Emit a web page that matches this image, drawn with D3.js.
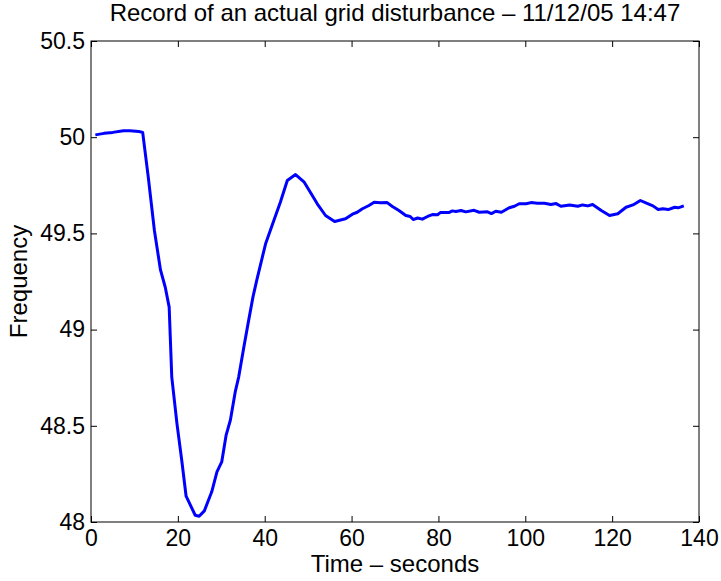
<!DOCTYPE html>
<html>
<head>
<meta charset="utf-8">
<script src="https://cdn.jsdelivr.net/npm/d3@7"></script>
<style>
  html, body { margin: 0; padding: 0; background: #fff; }
  svg text { font-family: "Liberation Sans", Arial, Helvetica, sans-serif; fill: #000; }
</style>
</head>
<body>
<svg id="chart" width="721" height="581"></svg>
<script>
const titleText = "Record of an actual grid disturbance \u2013 11/12/05 14:47";
const xLabel = "Time \u2013 seconds";
const yLabel = "Frequency";
const xTicks = [0, 20, 40, 60, 80, 100, 120, 140];
const yTicks = [48, 48.5, 49, 49.5, 50, 50.5];
const yTickLabels = ["48", "48.5", "49", "49.5", "50", "50.5"];

const times = [1, 3, 5, 7.5, 9, 11, 11.9, 13.2, 14.6, 16, 17.1, 18, 18.6, 19.8, 20.9, 21.9, 24, 24.9, 26.1, 27.8, 29, 30.1, 31.1, 32.1, 33.2, 34, 35.2, 36.3, 37.3, 38.2, 40.2, 42.1, 43.6, 45.2, 47.1, 49.1, 50.5, 52.1, 54, 56.1, 58.6, 60.2, 61.3, 62.5, 64, 65.2, 66.7, 68.2, 69.4, 70.9, 72.5, 73.5, 74.2, 75.2, 76.3, 77.5, 78.6, 79.8, 80.5, 82.5, 83.2, 84, 85.2, 86.3, 88.2, 89.4, 91.3, 92.2, 93.2, 94.5, 96.3, 97.5, 98.6, 100.2, 101.3, 102.8, 104.4, 105.9, 107.1, 108.2, 110.2, 112.1, 113.2, 114.4, 115.5, 117.5, 119.4, 121.3, 123.2, 124.8, 126.5, 127.9, 129.4, 130.6, 131.7, 132.9, 134.4, 135.2, 136.5];
const freq = [50.012, 50.02, 50.025, 50.034, 50.033, 50.03, 50.025, 49.79, 49.515, 49.31, 49.22, 49.117, 48.753, 48.51, 48.32, 48.134, 48.035, 48.03, 48.058, 48.157, 48.26, 48.312, 48.45, 48.53, 48.675, 48.753, 48.91, 49.048, 49.17, 49.26, 49.446, 49.567, 49.662, 49.775, 49.806, 49.766, 49.714, 49.654, 49.593, 49.562, 49.576, 49.60, 49.61, 49.628, 49.645, 49.662, 49.659, 49.66, 49.64, 49.619, 49.593, 49.588, 49.572, 49.58, 49.574, 49.588, 49.598, 49.597, 49.609, 49.609, 49.617, 49.614, 49.619, 49.612, 49.62, 49.61, 49.612, 49.603, 49.615, 49.61, 49.633, 49.641, 49.654, 49.654, 49.66, 49.657, 49.657, 49.65, 49.655, 49.641, 49.648, 49.641, 49.648, 49.643, 49.65, 49.619, 49.593, 49.602, 49.636, 49.648, 49.671, 49.657, 49.643, 49.624, 49.628, 49.624, 49.636, 49.633, 49.643];

const svg = d3.select("#chart");
const mLeft = 91, mRight = 699, mTop = 41, mBottom = 522;
const x = d3.scaleLinear().domain([0, 140]).range([mLeft, mRight]);
const y = d3.scaleLinear().domain([48, 50.5]).range([mBottom, mTop]);
const tickFs = 23, labelFs = 24;

function style(g) {
  g.select(".domain").remove();
  g.selectAll(".tick line").attr("stroke", "#000").attr("stroke-width", 1);
  g.selectAll("text").style("font-size", tickFs + "px").attr("fill", "#000");
}

svg.append("g").attr("transform", `translate(0,${mBottom})`)
  .call(d3.axisBottom(x).tickValues(xTicks).tickSizeInner(-6).tickSizeOuter(0).tickPadding(8).tickFormat(d3.format("d")))
  .call(style);
svg.append("g").attr("transform", `translate(0,${mTop})`)
  .call(d3.axisTop(x).tickValues(xTicks).tickSizeInner(-6).tickSizeOuter(0).tickFormat(""))
  .call(style);
svg.append("g").attr("transform", `translate(${mLeft},0)`)
  .call(d3.axisLeft(y).tickValues(yTicks).tickSizeInner(-6).tickSizeOuter(0).tickPadding(6).tickFormat((d, i) => yTickLabels[i]))
  .call(style);
svg.append("g").attr("transform", `translate(${mRight},0)`)
  .call(d3.axisRight(y).tickValues(yTicks).tickSizeInner(-6).tickSizeOuter(0).tickFormat(""))
  .call(style);

svg.append("rect").attr("x", mLeft).attr("y", mTop).attr("width", mRight - mLeft).attr("height", mBottom - mTop)
  .attr("fill", "none").attr("stroke", "#000").attr("stroke-width", 1);

const pts = times.map((t, i) => [t, freq[i]]);
svg.append("path").datum(pts)
  .attr("fill", "none").attr("stroke", "#0000ff").attr("stroke-width", 3).attr("stroke-linejoin", "round")
  .attr("d", d3.line().x(d => x(d[0])).y(d => y(d[1])));

svg.append("text").attr("x", (mLeft + mRight) / 2).attr("y", 21).attr("text-anchor", "middle")
  .style("font-size", labelFs + "px").text(titleText);
svg.append("text").attr("x", (mLeft + mRight) / 2).attr("y", 572).attr("text-anchor", "middle")
  .style("font-size", labelFs + "px").text(xLabel);
svg.append("text").attr("transform", `translate(27,${(mTop + mBottom) / 2}) rotate(-90)`).attr("text-anchor", "middle")
  .style("font-size", labelFs + "px").text(yLabel);
</script>
</body>
</html>
